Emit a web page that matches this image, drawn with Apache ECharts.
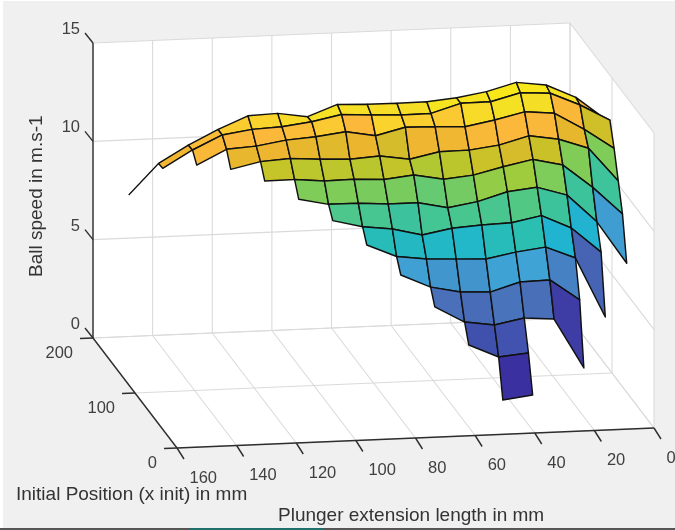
<!DOCTYPE html>
<html>
<head>
<meta charset="utf-8">
<style>
html,body{margin:0;padding:0;background:#fff;overflow:hidden}
#c{width:675px;height:530px;filter:blur(0.55px)}
</style>
<script src="https://cdn.jsdelivr.net/npm/echarts@6/dist/echarts.min.js"></script>
</head>
<body>
<div id="c"></div>
<script>
// ---- data: ball speed (m/s), one list per plunger extension, from back row to front row
const extensionTicks = [160,140,120,100,80,60,40,20,0];
const positionTicks = [0,100,200];
const speedTicks = [0,5,10,15];
const extensionLengths = [160,150,140,130,120,110,100,90,80,70,60,50,40,30,20,10,0];
const initialPositions = [115,105,95,85,75,65,55,45,35,25,15,5];
const speed160 = [9.65];
const speed150 = [11.19,11.22];
const speed140 = [12.06,12.09,11.60];
const speed130 = [12.79,12.79,12.34,11.60];
const speed120 = [13.42,13.01,12.44,11.93,11.22];
const speed110 = [13.48,13.08,12.68,12.03,11.24,10.51];
const speed100 = [13.25,13.27,12.79,11.92,11.10,10.19,9.64];
const speed90 = [13.81,13.58,12.98,11.86,11.12,10.18,9.27,8.62];
const speed80 = [13.75,13.49,12.71,11.96,11.05,10.08,9.09,7.97,7.31];
const speed70 = [13.74,13.42,13.08,11.73,11.21,10.08,8.72,7.78,6.63,5.90];
const speed60 = [13.75,13.44,13.04,12.05,10.93,9.76,9.00,7.71,6.32,5.07,4.18];
const speed50 = [13.89,13.89,12.98,12.07,11.08,10.01,9.10,7.65,6.25,4.86,3.51,1.60];
const speed40 = [14.14,13.91,13.26,12.26,11.44,10.45,9.15,7.94,6.70,5.15,3.65,1.79];
const speed30 = [14.55,14.30,13.61,12.67,11.75,10.61,9.45,8.13,6.74,5.03];
const speed20 = [14.35,14.21,13.47,12.43,11.40,10.15,8.76,7.51,5.66,2.48];
const speed10 = [13.66,13.55,12.59,11.91,10.20,8.73,7.47,4.45];
const speed0 = [12.48,12.72,11.56,10.18,8.78,6.56];
const speedColumns = [speed160,speed150,speed140,speed130,speed120,speed110,speed100,speed90,speed80,speed70,speed60,speed50,speed40,speed30,speed20,speed10,speed0];

// ---- colour ramp (fraction of the speed range -> colour)
const rampStops = [0,.147,.265,.397,.456,.504,.606,.663,.696,.745,.782,.80,.823,.858,.879,.89,.92,1];
const rampColors = ['#3B2C9E','#4050AD','#4A6FB9','#3FA3D5','#20B4D0','#2ABFB0','#52C885','#80CC58','#9ECC3C','#C5C428','#D4BC2A','#EBB62E','#F8B838','#FBB83A','#FBC932','#F9D82A','#F5E026','#F9EB15'];
const zMin = 1.6, zMax = 14.55;
function hex(c){return [1,3,5].map(i=>parseInt(c.substr(i,2),16));}
function ramp(z){
  const f=Math.max(0,Math.min(1,(z-zMin)/(zMax-zMin)));
  let i=0; while(i<rampStops.length-2 && f>rampStops[i+1]) i++;
  const t=(f-rampStops[i])/(rampStops[i+1]-rampStops[i]);
  const a=hex(rampColors[i]),b=hex(rampColors[i+1]);
  return 'rgb('+a.map((v,k)=>Math.round(v+(b[k]-v)*t)).join(',')+')';
}

// ---- fixed oblique view of the box: extension 160..0, position 0..200, speed 0..15
function project(x,y,z){
  return [93+(160-x)*477/160+(200-y)*84/200, 338-(160-x)*20/160+(200-y)*110/200-z*295/15];
}

// ---- surface cells
const cells=[], loose=[];
speedColumns.forEach((col,i)=>{
  if(i===speedColumns.length-1) return;
  const nxt=speedColumns[i+1];
  for(let r=0;r+1<initialPositions.length;r++){
    if(col[r+1]!==undefined && nxt[r+1]!==undefined) cells.push([i,r]);
  }
  if(col.length===1) loose.push([i,0]);
});
cells.sort((a,b)=>a[1]-b[1]||a[0]-b[0]);
function vtx(i,r){return project(extensionLengths[i],initialPositions[r],speedColumns[i][r]);}

// ---- box planes and grid
const planes=[
  [[160,200,0],[0,200,0],[0,200,15],[160,200,15]],
  [[0,200,0],[0,0,0],[0,0,15],[0,200,15]],
  [[160,200,0],[0,200,0],[0,0,0],[160,0,0]]
];
const allExt=[0,20,40,60,80,100,120,140,160];
const gridSegs=[];
allExt.forEach(x=>{
  gridSegs.push([[x,200,0],[x,200,15]],[[x,200,0],[x,0,0]]);
});
positionTicks.forEach(y=>{
  gridSegs.push([[160,y,0],[0,y,0]],[[0,y,0],[0,y,15]]);
});
speedTicks.forEach(z=>{
  gridSegs.push([[160,200,z],[0,200,z]],[[0,200,z],[0,0,z]]);
});
const axisSegs=[[[160,200,0],[160,200,15]],[[160,200,0],[160,0,0]],[[160,0,0],[0,0,0]]];
const tickSegs=[];
extensionTicks.forEach(x=>tickSegs.push({base:[x,0,0],d:[7,11]}));
positionTicks.forEach(y=>tickSegs.push({base:[160,y,0],d:[-13,0.5]}));
speedTicks.forEach(z=>tickSegs.push({base:[160,200,z],d:[-8,-10]}));

const labels=[];
extensionTicks.forEach(x=>labels.push({t:String(x),p:[x,0,0],o:[12.5,30],a:'left'}));
positionTicks.forEach(y=>labels.push({t:String(y),p:[160,y,0],o:[-20,15],a:'right'}));
speedTicks.forEach(z=>labels.push({t:String(z),p:[160,200,z],o:[-13,-13.5],a:'right'}));

const FONT='"Liberation Sans",Arial,sans-serif', INK='#404040';
function seg(api,a,b,style){
  const p=api.coord(a),q=api.coord(b);
  return {type:'line',shape:{x1:p[0],y1:p[1],x2:q[0],y2:q[1]},style:style};
}
function custom(name,data,fn,z){
  return {type:'custom',name:name,coordinateSystem:'cartesian2d',data:data.map((d,i)=>[i]),
    silent:true,animation:false,clip:false,z:z,encode:{x:0,y:0},
    renderItem:(params,api)=>fn(data[params.dataIndex],api)};
}

const chart=echarts.init(document.getElementById('c'),null,{renderer:'canvas'});
chart.setOption({
  animation:false,
  backgroundColor:'#F0F0F0',
  grid:{left:0,right:0,top:0,bottom:0},
  xAxis:{type:'value',min:0,max:675,show:false},
  yAxis:{type:'value',min:0,max:530,inverse:true,show:false},
  graphic:[
    {type:'rect',shape:{x:0,y:0,width:3,height:530},style:{fill:'#fff'},z:50},
    {type:'rect',shape:{x:0,y:0,width:675,height:1},style:{fill:'#fff'},z:50},
    {type:'rect',shape:{x:0,y:528,width:675,height:2},style:{fill:'#555'},z:50},
    {type:'rect',shape:{x:190,y:528,width:133,height:2},style:{fill:'#1f6f6c'},z:51}
  ],
  series:[
    custom('planes',planes,(pl,api)=>({type:'polygon',shape:{points:pl.map(p=>api.coord(project(...p)))},style:{fill:'#fff'}}),1),
    custom('grid',gridSegs,(s,api)=>seg(api,project(...s[0]),project(...s[1]),{stroke:'#dadada',lineWidth:1.1}),2),
    custom('axes',axisSegs,(s,api)=>seg(api,project(...s[0]),project(...s[1]),{stroke:'#2e2e2e',lineWidth:1.4}),3),
    custom('ticks',tickSegs,(s,api)=>{
      const b=project(...s.base);
      return seg(api,b,[b[0]+s.d[0],b[1]+s.d[1]],{stroke:'#2e2e2e',lineWidth:1.4});
    },3),
    custom('loose',loose,(c,api)=>seg(api,vtx(c[0],0),vtx(c[0]+1,0),{stroke:'#111',lineWidth:1.3}),4),
    custom('surface',cells,(c,api)=>{
      const i=c[0],r=c[1];
      return {type:'polygon',
        shape:{points:[vtx(i,r),vtx(i+1,r),vtx(i+1,r+1),vtx(i,r+1)].map(p=>api.coord(p))},
        style:{fill:ramp(speedColumns[i+1][r+1]),stroke:'#111',lineWidth:1.45,lineJoin:'round'}};
    },5),
    custom('labels',labels,(l,api)=>{
      const b=project(...l.p),q=api.coord([b[0]+l.o[0],b[1]+l.o[1]]);
      return {type:'text',x:q[0],y:q[1],style:{text:l.t,fill:INK,font:'16.5px '+FONT,align:l.a,verticalAlign:'middle'}};
    },6),
    custom('titles',[
      {t:'Plunger extension length in mm',x:278,y:516,r:0},
      {t:'Initial Position (x init) in mm',x:16,y:495,r:0},
      {t:'Ball speed in m.s-1',x:37,y:277,r:Math.PI/2}
    ],(l,api)=>{
      const q=api.coord([l.x,l.y]);
      return {type:'text',x:q[0],y:q[1],rotation:l.r,style:{text:l.t,fill:'#333',font:'19px '+FONT,align:'left',verticalAlign:'middle'}};
    },6)
  ]
});
</script>
</body>
</html>
